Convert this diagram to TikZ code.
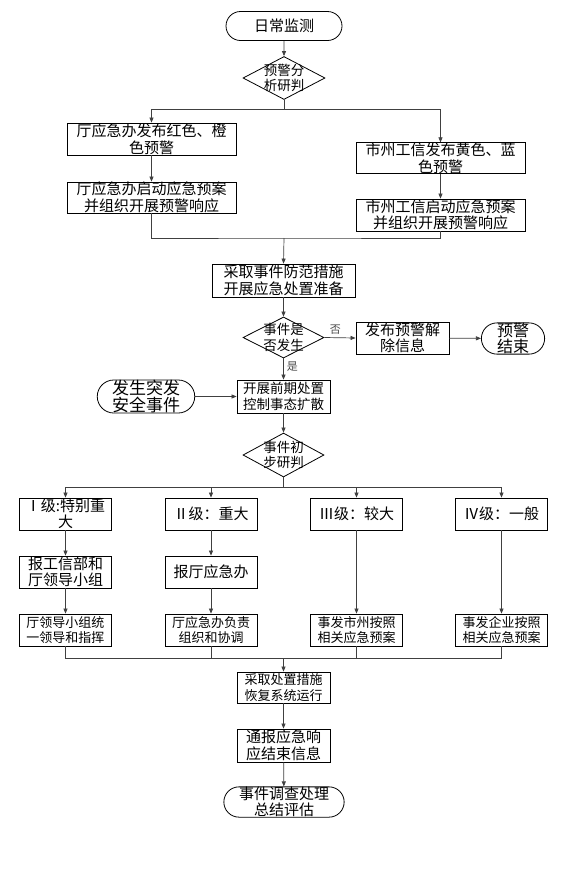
\documentclass[tikz,border=0pt]{standalone}
\usepackage{fontspec}
\setmainfont{Noto Sans CJK SC}
\usetikzlibrary{shapes.geometric,shapes.misc,arrows.meta}
\begin{document}
\begin{tikzpicture}[x=1pt,y=-1pt,
  pbox/.style={draw=black,line width=0.8pt,inner sep=0pt,align=center,font=\fontsize{15}{16.5}\selectfont},
  sbox/.style={pbox,font=\fontsize{13}{15.5}\selectfont},
  term/.style={rounded rectangle,draw=black,line width=0.8pt,inner sep=0pt,align=center,font=\fontsize{15}{16.5}\selectfont},
  dia/.style={diamond,draw=black,line width=0.8pt,inner sep=0pt},
  dtext/.style={align=center,inner sep=0pt,font=\fontsize{13.5}{15.5}\selectfont},
  conn/.style={draw=black!75,line width=0.7pt},
  arr/.style={conn,-{Triangle[length=5pt,width=4pt]}},
  lab/.style={inner sep=0pt,text=black!70,font=\fontsize{11}{12}\selectfont}]
\fill[white] (0,0) rectangle (566,871);
\useasboundingbox (0,0) rectangle (566,871);

% top part
\node[term,minimum width=116pt,minimum height=29pt] (start) at (284,26) {日常监测};
\node[dia,minimum width=82pt,minimum height=43pt] (d1) at (284,78) {};
\node[dtext] (d1t) at (d1) {预警分\\析研判};
\node[pbox,minimum width=169pt,minimum height=32pt] (L1) at (151.5,139) {厅应急办发布红色、橙\\色预警};
\node[pbox,minimum width=169pt,minimum height=31pt] (L2) at (151.5,197.5) {厅应急办启动应急预案\\并组织开展预警响应};
\node[pbox,minimum width=169pt,minimum height=30pt] (R1) at (440.5,158) {市州工信发布黄色、蓝\\色预警};
\node[pbox,minimum width=169pt,minimum height=32pt] (R2) at (440.5,215) {市州工信启动应急预案\\并组织开展预警响应};
\node[pbox,minimum width=143pt,minimum height=33pt] (B1) at (283.5,280.5) {采取事件防范措施\\开展应急处置准备};
\node[dia,minimum width=81pt,minimum height=41pt] (d2) at (283.5,337.5) {};
\node[dtext] (d2t) at (d2) {事件是\\否发生};
\node[pbox,minimum width=93pt,minimum height=32pt] (C1) at (402.5,338) {发布预警解\\除信息};
\node[term,minimum width=62pt,minimum height=31pt,font=\fontsize{16}{16.5}\selectfont] (T1) at (513,338.5) {预警\\结束};
\node[pbox,minimum width=93pt,minimum height=33pt,font=\fontsize{13.5}{16.5}\selectfont] (B2) at (283.5,396.5) {开展前期处置\\控制事态扩散};
\node[term,minimum width=92pt,minimum height=33pt,font=\fontsize{17}{17}\selectfont] (T2) at (146,396.5) {发生突发\\安全事件};
\node[dia,minimum width=81pt,minimum height=44pt] (d3) at (283.5,455) {};
\node[dtext] (d3t) at (d3) {事件初\\步研判};

% level columns
\node[pbox,minimum width=92pt,minimum height=32pt] (a1) at (65.5,514) {Ⅰ级:特别重\\大};
\node[pbox,minimum width=92pt,minimum height=32pt] (b1) at (211,514) {Ⅱ级：重大};
\node[pbox,minimum width=92pt,minimum height=32pt] (c1) at (356.5,514) {Ⅲ级：较大};
\node[pbox,minimum width=92pt,minimum height=32pt] (e1) at (501.5,514) {Ⅳ级：一般};
\node[pbox,minimum width=92pt,minimum height=32pt] (a2) at (65.5,572) {报工信部和\\厅领导小组};
\node[pbox,minimum width=92pt,minimum height=32pt] (b2) at (211,572) {报厅应急办};
\node[sbox,minimum width=92pt,minimum height=32pt] (a3) at (65.5,630) {厅领导小组统\\一领导和指挥};
\node[sbox,minimum width=92pt,minimum height=32pt] (b3) at (211,630) {厅应急办负责\\组织和协调};
\node[sbox,minimum width=92pt,minimum height=32pt] (c3) at (356.5,630) {事发市州按照\\相关应急预案};
\node[sbox,minimum width=92pt,minimum height=32pt] (e3) at (501.5,630) {事发企业按照\\相关应急预案};

% bottom
\node[sbox,minimum width=93pt,minimum height=31pt] (E1) at (283.5,687.5) {采取处置措施\\恢复系统运行};
\node[pbox,minimum width=93pt,minimum height=33pt] (E2) at (283.5,745.5) {通报应急响\\应结束信息};
\node[term,minimum width=116pt,minimum height=30pt] (E3) at (284,802) {事件调查处理\\总结评估};

% coordinates
\coordinate (s1) at (284,109);
\coordinate (m1) at (284,238);
\coordinate (s3) at (283.5,487);
\coordinate (m3) at (283.5,658);

% connectors
\draw[arr] (start) -- (d1);
\draw[conn] (d1.south) -- (s1);
\draw[arr] (s1) -| (L1.north);
\draw[arr] (s1) -| (R1.north);
\draw[arr] (L1) -- (L2);
\draw[arr] (R1) -- (R2);
\draw[conn] (L2.south) |- (m1) -| (R2.south);
\draw[arr] (m1) -- (B1.north);
\draw[arr] (B1) -- (d2);
\draw[arr] (d2.east) -- node[lab,pos=0.35,above=3pt] (no) {否} (C1.west);
\draw[arr] (C1) -- (T1);
\draw[arr] (d2.south) -- node[lab,pos=0.4,right=3pt] (yes) {是} (B2.north);
\draw[arr] (T2) -- (B2);
\draw[arr] (B2) -- (d3);
\draw[conn] (d3.south) -- (s3);
\draw[arr] (s3) -| (a1.north);
\draw[arr] (s3) -| (b1.north);
\draw[arr] (s3) -| (c1.north);
\draw[arr] (s3) -| (e1.north);
\draw[arr] (a1) -- (a2);
\draw[arr] (a2) -- (a3);
\draw[arr] (b1) -- (b2);
\draw[arr] (b2) -- (b3);
\draw[arr] (c1) -- (c3);
\draw[arr] (e1) -- (e3);
\draw[conn] (a3.south) |- (m3);
\draw[conn] (b3.south) |- (m3);
\draw[conn] (c3.south) |- (m3);
\draw[conn] (e3.south) |- (m3);
\draw[arr] (m3) -- (E1.north);
\draw[arr] (E1) -- (E2);
\draw[arr] (E2) -- (E3);
\end{tikzpicture}
\end{document}
